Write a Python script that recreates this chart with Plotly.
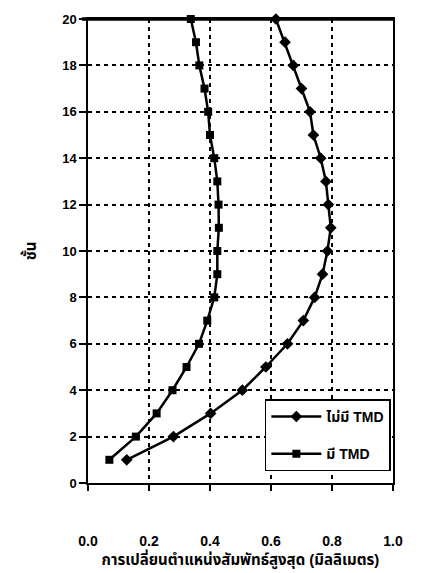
import plotly.graph_objects as go

# Floor numbers (1-20)
floors = list(range(1, 21))

# Maximum relative displacement (mm), without TMD
disp_no_tmd = [0.127, 0.28, 0.402, 0.506, 0.583, 0.654, 0.706, 0.743, 0.769, 0.785,
               0.796, 0.788, 0.780, 0.763, 0.739, 0.728, 0.700, 0.673, 0.646, 0.616]

# Maximum relative displacement (mm), with TMD
disp_tmd = [0.070, 0.157, 0.225, 0.277, 0.323, 0.364, 0.391, 0.414, 0.424, 0.424,
            0.429, 0.428, 0.424, 0.414, 0.400, 0.394, 0.382, 0.365, 0.354, 0.337]

x_ticks = [0.0, 0.2, 0.4, 0.6, 0.8, 1.0]
x_tick_text = ["0.0", "0.2", "0.4", "0.6", "0.8", "1.0"]
y_ticks = list(range(0, 21, 2))

FONT = "Liberation Sans, Arial, Noto Sans Thai, Noto Sans, sans-serif"

fig = go.Figure()
fig.add_trace(go.Scatter(
    x=disp_no_tmd, y=floors, mode="lines+markers", name="ไม่มี TMD",
    legendgroup="a", cliponaxis=False,
    line=dict(color="black", width=2.5),
    marker=dict(symbol="diamond", size=9, color="black"),
))
fig.add_trace(go.Scatter(
    x=disp_tmd, y=floors, mode="lines+markers", name="มี TMD",
    legendgroup="b", cliponaxis=False,
    line=dict(color="black", width=2.5),
    marker=dict(symbol="square", size=8, color="black"),
))

fig.update_layout(
    width=435, height=573,
    margin=dict(l=88, r=42, t=17, b=88),
    paper_bgcolor="white", plot_bgcolor="white",
    font=dict(family=FONT, size=13, color="black"),
    showlegend=True,
    legend=dict(
        x=0.993, y=0.025, xanchor="right", yanchor="bottom",
        bgcolor="white", bordercolor="black", borderwidth=1.5,
        font=dict(size=14, family=FONT, weight="bold"),
        itemwidth=50, tracegroupgap=16,
        entrywidth=112,
    ),
)

fig.update_xaxes(
    range=[0, 1.0], tickvals=x_ticks, ticktext=x_tick_text,
    showline=True, linecolor="black", linewidth=1.5, mirror=True,
    ticks="outside", ticklen=6, tickcolor="black", tickwidth=1.5,
    ticklabelstandoff=38,
    showgrid=True, gridcolor="black", gridwidth=1.5, griddash="4px,4px",
    zeroline=False,
    tickfont=dict(size=14, weight="bold"),
    title=dict(text="การเปลี่ยนตำแหน่งสัมพัทธ์สูงสุด (มิลลิเมตร)",
               font=dict(size=15, weight="bold"), standoff=2),
)
fig.update_yaxes(
    range=[0, 20], tickvals=y_ticks,
    showline=True, linecolor="black", linewidth=1.5, mirror=True,
    ticks="outside", ticklen=7, tickcolor="black", tickwidth=1.5,
    showgrid=True, gridcolor="black", gridwidth=1.5, griddash="4px,4px",
    zeroline=False,
    tickfont=dict(size=13, weight="bold"),
    title=dict(text="ชั้น", font=dict(size=15, weight="bold"), standoff=22),
)

# Heavier top border of the plot frame
fig.add_shape(type="line", xref="paper", yref="paper", x0=-0.02, x1=1, y0=1, y1=1,
              line=dict(color="black", width=3.5))

fig.write_html("out.html")
